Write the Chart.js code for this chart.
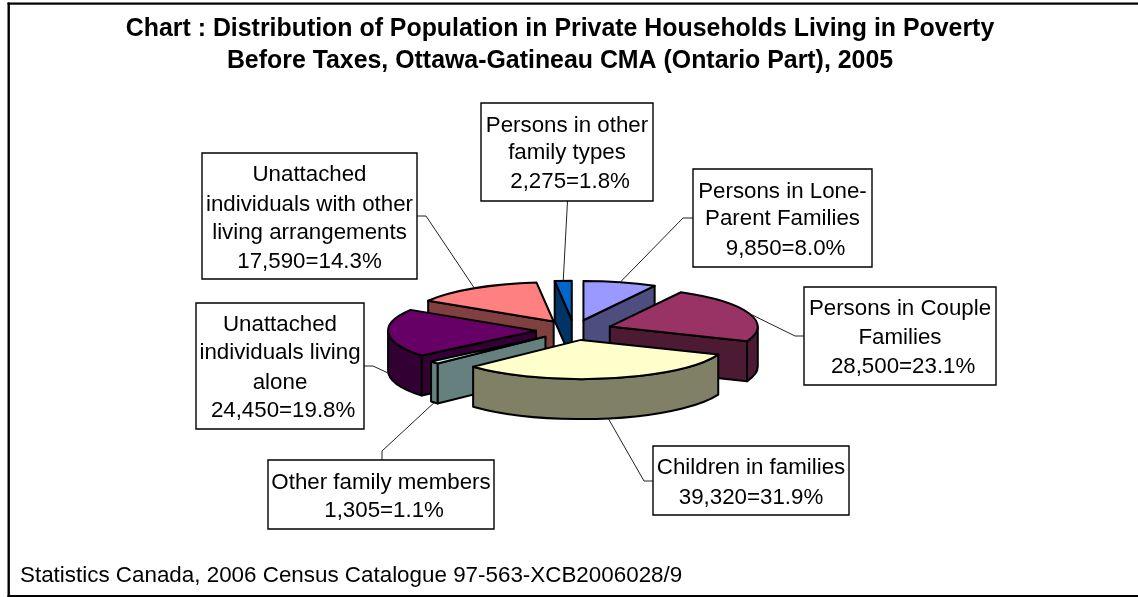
<!DOCTYPE html>
<html><head><meta charset="utf-8">
<style>html,body{margin:0;padding:0;background:#fff}#w{position:relative;width:1138px;height:597px}canvas{display:block}</style>
<script src="https://cdn.jsdelivr.net/npm/chart.js@4"></script>
</head><body><div id="w"><canvas id="c" width="1138" height="597"></canvas></div>
<script>
const categories = ['Persons in Lone-Parent Families','Persons in Couple Families','Children in families','Other family members','Unattached individuals living alone','Unattached individuals with other living arrangements','Persons in other family types'];
const persons = [9850,28500,39320,1305,24450,17590,2275];
const calloutText = [
  ['Persons in Lone-','Parent Families',' 9,850=8.0%'],
  ['Persons in Couple','Families',' 28,500=23.1%'],
  ['Children in families','39,320=31.9%'],
  ['Other family members',' 1,305=1.1%'],
  ['Unattached','individuals living','alone',' 24,450=19.8%'],
  ['Unattached','individuals with other','living arrangements','17,590=14.3%'],
  ['Persons in other','family types',' 2,275=1.8%']
];
const topColors = ['#9999FF','#993366','#FFFFCC','#CCFFFF','#660066','#FF8080','#0066CC'];
const wallColors = ['#4D4D80','#4D1A33','#808066','#668080','#330033','#804040','#003366'];
const titleLines = ['Chart : Distribution of Population in Private Households Living in Poverty','Before Taxes, Ottawa-Gatineau CMA (Ontario Part), 2005'];
const sourceLine = 'Statistics Canada, 2006 Census Catalogue 97-563-XCB2006028/9';

// layout
const CX=574, CY=330, R=148, K=0.265, EXPLODE=38, DEPTH=40;
const boxes = [[693,169,872,267],[804,287,996,385],[653,446,849,515],[268,460,494,529],[196,303,364,429],[202,153,417,279],[481,103,653,201]];
const lineY = [[192,219,249],[309,338,367],[468,498],[483,511],[325,353,383,411],[175,205,233,262],[126,153,182]];
const leaderStart = [[[693,218],[683,218]],[[804,336],[795,336]],[[653,481],[644,481]],[[382,460],[382,451]],[[364,366],[373,366]],[[417,216],[426,216]],[[567.5,201]]];

const sx = a => a.x;
const sy = a => CY + (a.y - CY) * K;

const pie3d = {
  id:'pie3d',
  afterDatasetsUpdate(chart){
    chart.getDatasetMeta(0).data.forEach(a=>{
      const mid=(a.startAngle+a.endAngle)/2;
      a.x=CX+EXPLODE*Math.cos(mid);
      a.y=CY+EXPLODE*Math.sin(mid);
    });
  },
  beforeDatasetDraw(chart){
    const ctx=chart.ctx, arcs=chart.getDatasetMeta(0).data;
    ctx.save();
    ctx.strokeStyle='#000'; ctx.lineWidth=2; ctx.lineJoin='round';
    const order=arcs.map((a,i)=>i).sort((p,q)=>arcs[p].y-arcs[q].y);
    order.forEach(i=>{
      const a=arcs[i], x=sx(a), y=sy(a), ry=R*K, a0=a.startAngle, a1=a.endAngle;
      ctx.fillStyle=wallColors[i];
      const radial=ang=>{
        ctx.beginPath();
        ctx.moveTo(x,y);
        ctx.lineTo(x+R*Math.cos(ang),y+ry*Math.sin(ang));
        ctx.lineTo(x+R*Math.cos(ang),y+ry*Math.sin(ang)+DEPTH);
        ctx.lineTo(x,y+DEPTH);
        ctx.closePath(); ctx.fill(); ctx.stroke();
      };
      if(Math.cos(a0)<0) radial(a0);
      if(Math.cos(a1)>0) radial(a1);
      const f0=Math.max(a0,0), f1=Math.min(a1,Math.PI);
      if(f1>f0){
        ctx.beginPath();
        ctx.ellipse(x,y,R,ry,0,f0,f1);
        ctx.ellipse(x,y+DEPTH,R,ry,0,f1,f0,true);
        ctx.closePath(); ctx.fill(); ctx.stroke();
      }
    });
    ctx.restore();
    ctx.save();
    ctx.translate(CX,CY); ctx.scale(1,K); ctx.translate(-CX,-CY);
  },
  afterDatasetDraw(chart){
    const ctx=chart.ctx;
    ctx.restore();
    ctx.save();
    ctx.strokeStyle='#000'; ctx.lineWidth=2; ctx.lineJoin='round';
    chart.getDatasetMeta(0).data.forEach(a=>{
      const x=sx(a), y=sy(a);
      ctx.beginPath();
      ctx.moveTo(x,y);
      ctx.ellipse(x,y,R,R*K,0,a.startAngle,a.endAngle);
      ctx.closePath(); ctx.stroke();
    });
    ctx.restore();
  },
  afterDraw(chart){
    const ctx=chart.ctx, arcs=chart.getDatasetMeta(0).data;
    ctx.save();
    ctx.fillStyle='#000';
    ctx.fillRect(7.5,2.5,1130.5,2.2);
    ctx.fillRect(7.5,2.5,2.4,594.5);
    ctx.fillRect(7.5,595,1130.5,2);
    arcs.forEach((a,i)=>{
      const mid=(a.startAngle+a.endAngle)/2;
      const tx=sx(a)+R*Math.cos(mid);
      const ty=sy(a)+R*K*Math.sin(mid)+(Math.sin(mid)>0?DEPTH:0);
      ctx.strokeStyle='#222'; ctx.lineWidth=1;
      ctx.beginPath();
      leaderStart[i].forEach((p,j)=>j?ctx.lineTo(p[0],p[1]):ctx.moveTo(p[0],p[1]));
      ctx.lineTo(tx,ty); ctx.stroke();
      const b=boxes[i];
      ctx.fillStyle='#fff'; ctx.strokeStyle='#000'; ctx.lineWidth=1.4;
      ctx.beginPath(); ctx.rect(b[0],b[1],b[2]-b[0],b[3]-b[1]); ctx.fill(); ctx.stroke();
      ctx.fillStyle='#000'; ctx.font='22.3px "Liberation Sans"'; ctx.textAlign='center'; ctx.textBaseline='middle';
      calloutText[i].forEach((t,j)=>ctx.fillText(t,(b[0]+b[2])/2,lineY[i][j]));
    });
    ctx.restore();
  }
};

new Chart(document.getElementById('c'),{
  type:'pie',
  data:{labels:categories,datasets:[{data:persons,backgroundColor:topColors,borderWidth:0,radius:R,clip:false}]},
  options:{
    responsive:false,animation:false,
    layout:{padding:{left:20,right:38,top:0,bottom:8}},
    plugins:{
      legend:{display:false},tooltip:{enabled:false},
      title:{display:true,text:titleLines,color:'#000',font:{family:'"Liberation Sans"',size:24.9,weight:'bold',lineHeight:1.28},padding:{top:13,bottom:0}},
      subtitle:{display:true,position:'bottom',align:'start',text:sourceLine,color:'#000',font:{family:'"Liberation Sans"',size:22.4,weight:'normal'},padding:{top:0,bottom:0}}
    }
  },
  plugins:[pie3d]
});
</script></body></html>
